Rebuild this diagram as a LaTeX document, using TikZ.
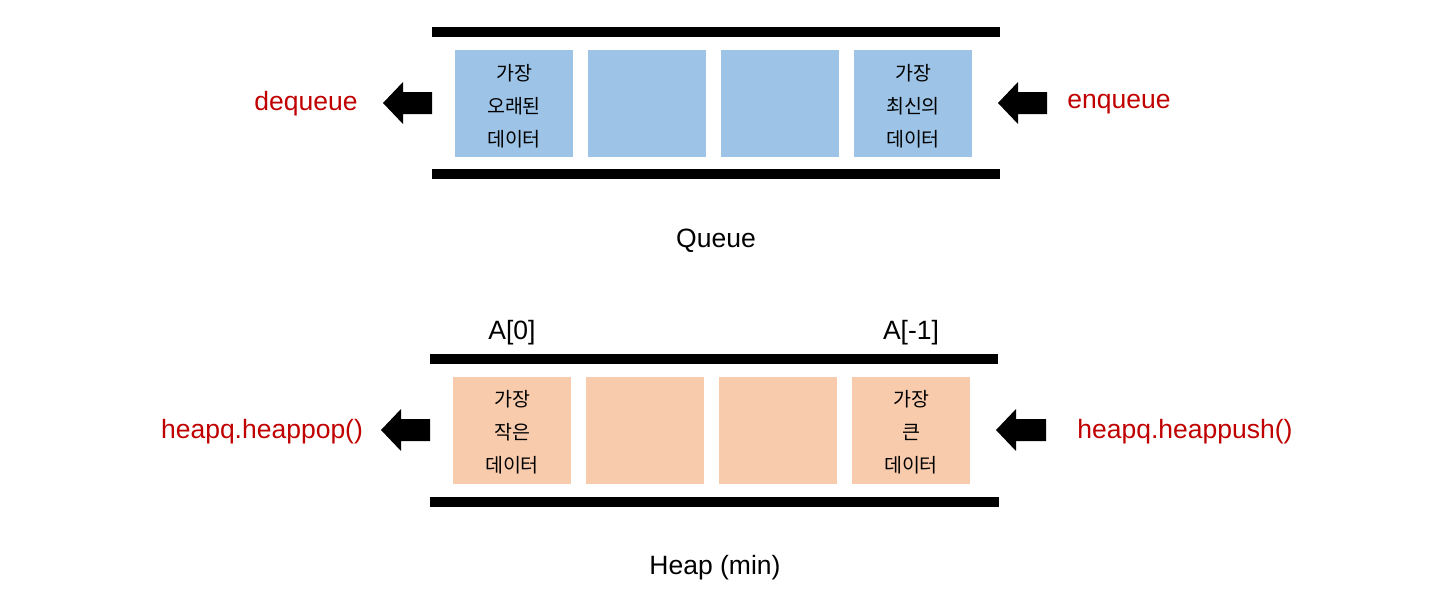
\documentclass[tikz,border=0pt]{standalone}
\usepackage{fontspec}
\setmainfont{Liberation Sans}
\newfontfamily\kofont{Noto Sans CJK KR}
\definecolor{qblue}{HTML}{9DC3E6}
\definecolor{horange}{HTML}{F8CBAD}
\definecolor{opred}{HTML}{C00000}
\tikzset{
  cell/.style={minimum width=118pt, minimum height=107pt, inner sep=0pt, align=center,
    font=\kofont\fontsize{19.5}{33}\selectfont},
  celltext/.style={align=center, inner sep=0pt, font=\kofont\fontsize{19.5}{33}\selectfont},
  rail/.style={line width=10pt, line cap=butt},
  oplabel/.style={color=opred, font=\fontsize{26.5}{30}\selectfont},
  caption/.style={font=\fontsize{26.5}{30}\selectfont},
  blockarrow/.style={fill=black}
}
\begin{document}
\begin{tikzpicture}[x=1pt, y=-1pt]
	\useasboundingbox (0,0) rectangle (1441,589);
	% queue
	\draw[rail] (432,32) -- (1000,32);
	\draw[rail] (432,174) -- (1000,174);
	\node[cell, fill=qblue] (q1) at (514,103.5) {};
	\node[cell, fill=qblue] (q2) at (647,103.5) {};
	\node[cell, fill=qblue] (q3) at (780,103.5) {};
	\node[cell, fill=qblue] (q4) at (913,103.5) {};
	\node[celltext] (q1t) at (514,106) {가장\\오래된\\데이터};
	\node[celltext] (q4t) at (913,106) {가장\\최신의\\데이터};
	\fill[blockarrow, shift={(383,103)}] (0,0) -- (20,-21) -- (20,-11) -- (49,-11) -- (49,11) -- (20,11) -- (20,21) -- cycle;
	\fill[blockarrow, shift={(998,103)}] (0,0) -- (20,-21) -- (20,-11) -- (49,-11) -- (49,11) -- (20,11) -- (20,21) -- cycle;
	\node[oplabel] (deq) at (306,104) {dequeue};
	\node[oplabel] (enq) at (1119,104) {enqueue};
	\node[caption] (qcap) at (716,241) {Queue};
	% heap
	\node[caption] (first) at (512,333) {A[0]};
	\node[caption] (last) at (911,333) {A[-1]};
	\draw[rail] (430,358.5) -- (998,358.5);
	\draw[rail] (430,502) -- (999,502);
	\node[cell, fill=horange] (h1) at (512,430) {};
	\node[cell, fill=horange] (h2) at (645,430) {};
	\node[cell, fill=horange] (h3) at (778,430) {};
	\node[cell, fill=horange] (h4) at (911,430) {};
	\node[celltext] (h1t) at (512,432.5) {가장\\작은\\데이터};
	\node[celltext] (h4t) at (911,432.5) {가장\\큰\\데이터};
	\fill[blockarrow, shift={(381,430)}] (0,0) -- (20,-21) -- (20,-11) -- (49,-11) -- (49,11) -- (20,11) -- (20,21) -- cycle;
	\fill[blockarrow, shift={(996,430)}] (0,0) -- (20,-21) -- (20,-11) -- (50,-11) -- (50,11) -- (20,11) -- (20,21) -- cycle;
	\node[oplabel] (pop) at (262,432) {heapq.heappop()};
	\node[oplabel] (push) at (1185,432) {heapq.heappush()};
	\node[caption] (hcap) at (715,568) {Heap (min)};
\end{tikzpicture}
\end{document}
